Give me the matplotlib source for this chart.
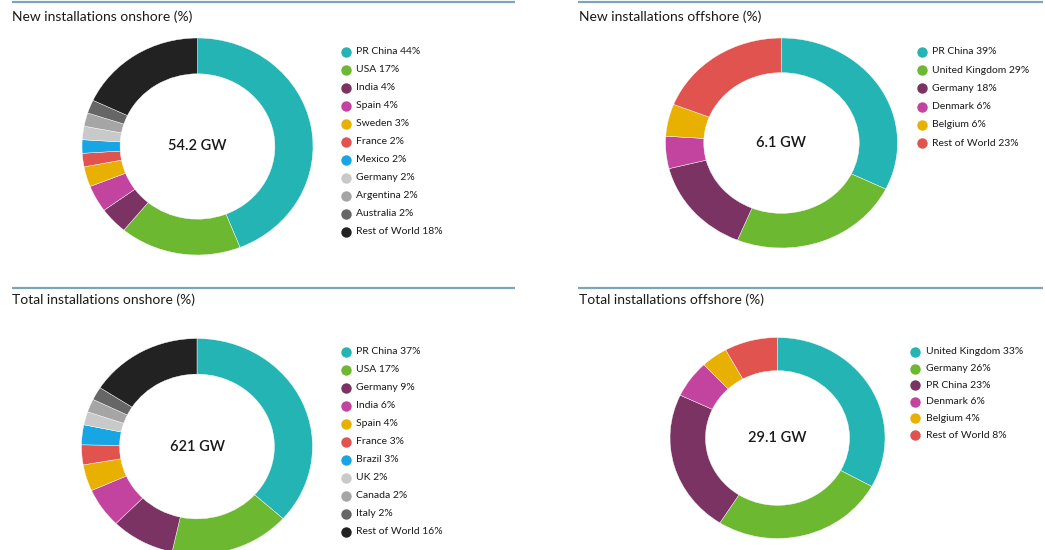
import matplotlib.pyplot as plt

plt.rcParams['font.family'] = ['Lato', 'DejaVu Sans']

W, H = 1045, 550

# data
new_on_labels = ["PR China", "USA", "India", "Spain", "Sweden", "France", "Mexico",
                 "Germany", "Argentina", "Australia", "Rest of World"]
new_on_values = [44, 17, 4, 4, 3, 2, 2, 2, 2, 2, 18]

new_off_labels = ["PR China", "United Kingdom", "Germany", "Denmark", "Belgium", "Rest of World"]
new_off_values = [39, 29, 18, 6, 6, 23]

tot_on_labels = ["PR China", "USA", "Germany", "India", "Spain", "France", "Brazil",
                 "UK", "Canada", "Italy", "Rest of World"]
tot_on_values = [37, 17, 9, 6, 4, 3, 3, 2, 2, 2, 16]

tot_off_labels = ["United Kingdom", "Germany", "PR China", "Denmark", "Belgium", "Rest of World"]
tot_off_values = [33, 26, 23, 6, 4, 8]

titles = ["New installations onshore (%)", "New installations offshore (%)",
          "Total installations onshore (%)", "Total installations offshore (%)"]
centers = ["54.2 GW", "6.1 GW", "621 GW", "29.1 GW"]

teal, green, purple, magenta = "#24b4b4", "#6cb831", "#7a3363", "#c2449f"
yellow, red, blue = "#e8b000", "#e0534e", "#17a5e4"
lgray, mgray, dgray, black = "#c9c9c9", "#a5a5a5", "#666666", "#222222"
on_colors = [teal, green, purple, magenta, yellow, red, blue, lgray, mgray, dgray, black]
off_colors = [teal, green, purple, magenta, yellow, red]

fig = plt.figure(figsize=(W / 100, H / 100), dpi=100)
overlay = fig.add_axes([0, 0, 1, 1])
overlay.set_xlim(0, W)
overlay.set_ylim(H, 0)
overlay.axis('off')

# panel geometry in pixels: header line, title spot, donut center + radii, legend start/step
panels = [
    dict(line=(12, 515, 2), title=(12, 17), c=(197.5, 146.5), r=(115.5, 108.5),
         leg=(346, 52, 18.0), labels=new_on_labels, vals=new_on_values, colors=on_colors),
    dict(line=(578, 1043, 2), title=(579, 17), c=(781.5, 143), r=(116, 105),
         leg=(922, 52, 18.2), labels=new_off_labels, vals=new_off_values, colors=off_colors),
    dict(line=(12, 515, 287.5), title=(12, 300), c=(197, 446.5), r=(115.5, 108),
         leg=(346, 352, 18.0), labels=tot_on_labels, vals=tot_on_values, colors=on_colors),
    dict(line=(578, 1043, 287.5), title=(579, 300), c=(777.5, 438), r=(107.5, 100.5),
         leg=(915, 352, 16.6), labels=tot_off_labels, vals=tot_off_values, colors=off_colors),
]

for p, title, ctext in zip(panels, titles, centers):
    x0, x1, ly = p['line']
    overlay.plot([x0, x1], [ly, ly], color="#7fa4ba", lw=1.6, solid_capstyle='butt')
    overlay.text(p['title'][0], p['title'][1], title, fontsize=10, color="#1a1a1a",
                 va='center', ha='left')

    cx, cy = p['c']
    rx, ry = p['r']
    ax = fig.add_axes([(cx - rx) / W, 1 - (cy + ry) / H, 2 * rx / W, 2 * ry / H])
    ax.pie(p['vals'], colors=p['colors'], startangle=90, counterclock=False,
           radius=1, wedgeprops=dict(width=0.33, edgecolor='white', linewidth=0.3))
    ax.set_aspect('auto')
    ax.set_xlim(-1, 1)
    ax.set_ylim(-1, 1)
    ax.axis('off')
    ax.text(0, 0, ctext, ha='center', va='center', fontsize=10.5, color="#1a1a1a",
            fontweight='semibold')

    mx, my, step = p['leg']
    for i, (lab, val, col) in enumerate(zip(p['labels'], p['vals'], p['colors'])):
        y = my + i * step
        overlay.plot(mx, y, 'o', ms=7.5, color=col, mec='none')
        overlay.text(mx + 10.5, y, f"{lab} {val}%", fontsize=7.5, color="#1a1a1a",
                     va='center', ha='left')

fig.savefig("out.png", dpi=100)
